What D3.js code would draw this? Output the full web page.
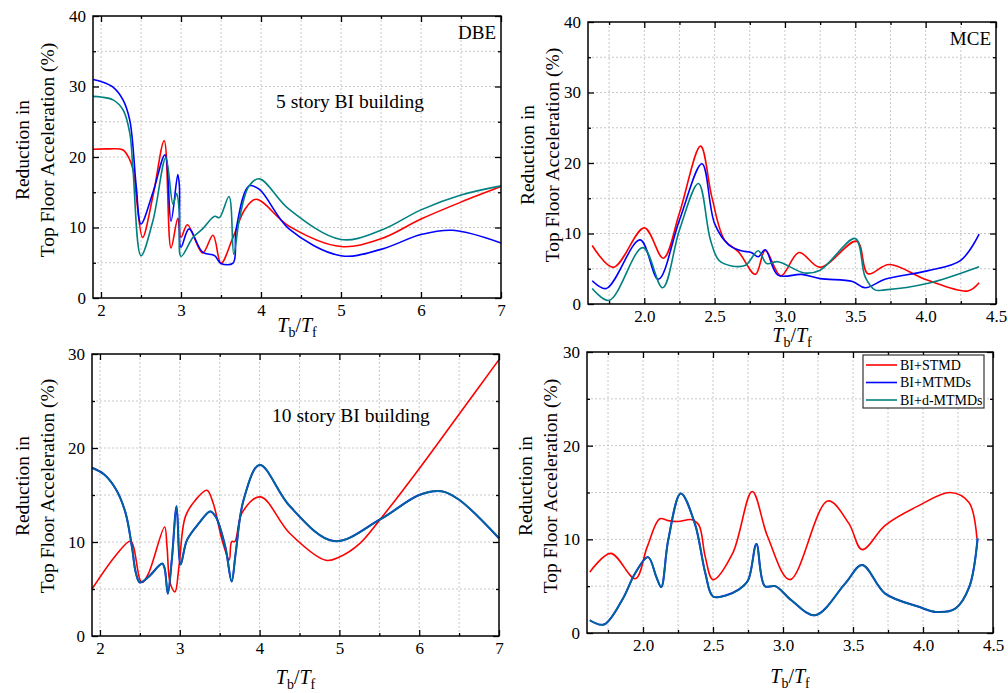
<!DOCTYPE html>
<html>
<head>
<meta charset="utf-8">
<script src="https://cdn.jsdelivr.net/npm/d3@7"></script>
<style>
  body { margin: 0; background: #fff; }
  text { font-family: "Liberation Serif", "Times New Roman", serif; fill: #000; }
</style>
</head>
<body>
<script>
// ---- data ----
// 5 story, DBE
var dbeStmdX = [1.9, 2.1, 2.275, 2.36, 2.41, 2.45, 2.52, 2.65, 2.79, 2.875, 2.96, 3.0, 3.08, 3.27, 3.4, 3.5, 3.65, 3.8, 3.94, 4.35, 5.0, 5.5, 6.0, 6.5, 7.0];
var dbeStmdY = [21.1, 21.15, 21.0, 19.6, 17.7, 13.5, 8.6, 14.5, 22.3, 7.1, 11.3, 8.6, 10.4, 6.4, 8.9, 4.9, 8.6, 12.6, 14.0, 10.2, 7.3, 8.4, 11.2, 13.6, 15.8];
var dbeMtmdX = [1.9, 2.0, 2.15, 2.275, 2.36, 2.44, 2.5, 2.65, 2.8, 2.875, 2.96, 2.98, 3.0, 3.1, 3.27, 3.42, 3.5, 3.65, 3.69, 3.85, 3.98, 4.35, 5.0, 5.5, 6.0, 6.4, 7.0];
var dbeMtmdY = [31.0, 30.7, 29.9, 28.1, 25.2, 15.9, 10.5, 15.0, 20.3, 10.9, 17.5, 15.9, 7.2, 9.8, 6.5, 6.0, 4.9, 4.95, 9.8, 15.9, 15.4, 9.8, 6.0, 6.9, 9.0, 9.6, 7.8];
var dbeDmtmdX = [1.9, 2.0, 2.15, 2.275, 2.36, 2.4, 2.5, 2.65, 2.81, 2.9, 2.945, 2.98, 3.0, 3.15, 3.27, 3.42, 3.48, 3.6, 3.66, 3.73, 3.85, 3.98, 4.35, 5.0, 5.5, 6.0, 6.5, 7.0];
var dbeDmtmdY = [28.6, 28.5, 28.1, 26.7, 23.4, 18.2, 6.0, 11.0, 19.9, 13.3, 14.8, 12.1, 5.9, 8.6, 9.8, 11.6, 11.4, 14.4, 6.2, 11.2, 15.9, 16.9, 12.6, 8.3, 9.6, 12.5, 14.6, 15.9];

// 5 story, MCE
var mceStmdX = [1.63, 1.78, 2.0, 2.135, 2.25, 2.4, 2.48, 2.57, 2.67, 2.79, 2.86, 2.97, 3.1, 3.25, 3.51, 3.59, 3.74, 4.01, 4.3, 4.38];
var mceStmdY = [8.3, 5.2, 10.8, 6.5, 12.9, 22.4, 15.2, 9.1, 7.4, 4.2, 7.6, 4.0, 7.3, 5.2, 8.9, 4.3, 5.6, 3.4, 1.85, 3.0];
var mceMtmdX = [1.63, 1.73, 1.97, 2.1, 2.25, 2.41, 2.5, 2.6, 2.69, 2.76, 2.81, 2.86, 2.95, 3.12, 3.25, 3.48, 3.57, 3.71, 4.01, 4.25, 4.38];
var mceMtmdY = [3.3, 2.2, 9.1, 3.5, 11.9, 19.9, 11.4, 8.4, 7.55, 7.3, 6.7, 7.7, 4.1, 4.2, 3.6, 3.2, 2.3, 3.5, 4.7, 6.2, 9.9];
var mceDmtmdX = [1.63, 1.75, 1.99, 2.13, 2.25, 2.385, 2.47, 2.53, 2.62, 2.72, 2.81, 2.87, 2.95, 3.14, 3.25, 3.5, 3.57, 3.64, 3.71, 4.01, 4.38];
var mceDmtmdY = [2.2, 0.5, 8.0, 2.3, 10.5, 17.1, 9.1, 6.2, 5.4, 5.5, 7.55, 5.75, 6.0, 4.4, 4.8, 9.3, 3.85, 2.0, 2.0, 2.9, 5.3];

// 10 story, DBE (MTMDs and d-MTMDs coincide)
var dbe10StmdX = [1.9, 2.2, 2.38, 2.42, 2.5, 2.53, 2.61, 2.81, 2.84, 2.88, 2.94, 2.99, 3.07, 3.2, 3.34, 3.42, 3.53, 3.62, 3.65, 3.69, 3.78, 4.01, 4.38, 4.83, 5.0, 5.25, 5.51, 6.0, 6.5, 7.0];
var dbe10StmdY = [5.0, 8.6, 10.1, 9.5, 6.0, 5.7, 6.7, 11.6, 9.5, 5.6, 4.7, 7.4, 12.7, 14.5, 15.5, 14.1, 10.2, 8.1, 10.05, 10.05, 13.1, 14.8, 10.9, 8.05, 8.4, 9.8, 12.4, 17.8, 23.6, 29.4];
var dbe10MtmdX = [1.9, 2.05, 2.2, 2.32, 2.4, 2.45, 2.5, 2.61, 2.78, 2.81, 2.85, 2.9, 2.96, 3.01, 3.09, 3.24, 3.38, 3.45, 3.57, 3.65, 3.7, 3.8, 4.0, 4.38, 4.93, 5.51, 6.0, 6.28, 6.5, 7.0];
var dbe10MtmdY = [17.9, 17.2, 15.6, 13.1, 9.5, 6.7, 5.7, 6.3, 7.7, 7.2, 4.5, 8.1, 13.8, 7.6, 10.2, 12.0, 13.25, 12.7, 9.5, 5.8, 8.8, 14.5, 18.2, 13.8, 10.1, 12.4, 15.0, 15.4, 14.5, 10.4];

// 10 story, MCE (MTMDs and d-MTMDs coincide)
var mce10StmdX = [1.62, 1.77, 1.945, 2.03, 2.12, 2.18, 2.25, 2.35, 2.4, 2.445, 2.5, 2.64, 2.78, 2.89, 3.05, 3.32, 3.47, 3.565, 3.73, 3.97, 4.195, 4.33, 4.385];
var mce10StmdY = [6.5, 8.5, 5.8, 9.2, 12.2, 12.0, 11.9, 12.1, 11.5, 8.1, 5.7, 8.5, 15.1, 10.3, 5.7, 14.1, 11.7, 8.9, 11.5, 13.6, 15.0, 13.9, 10.1];
var mce10MtmdX = [1.62, 1.72, 1.85, 1.945, 2.036, 2.095, 2.13, 2.18, 2.27, 2.37, 2.445, 2.5, 2.59, 2.68, 2.75, 2.81, 2.87, 2.945, 3.06, 3.23, 3.445, 3.565, 3.73, 3.97, 4.09, 4.23, 4.33, 4.39];
var mce10MtmdY = [1.36, 0.9, 3.5, 6.4, 8.1, 6.0, 4.9, 9.9, 14.9, 11.7, 6.4, 3.9, 4.0, 4.6, 5.6, 9.5, 5.0, 5.0, 3.5, 1.9, 5.3, 7.25, 4.2, 2.8, 2.25, 2.6, 4.9, 10.1];

var legendNames = ["BI+STMD", "BI+MTMDs", "BI+d-MTMDs"];
var colors = ["#ff0000", "#0000ff", "#008080"];

function zip(xs, ys) { return xs.map(function(x, i) { return [x, ys[i]]; }); }

var W = 1008, H = 693;
var svg = d3.select("body").append("svg").attr("width", W).attr("height", H);

var panels = [
  { l: 93, r: 501, t: 16, b: 298, xd: [1.9, 7], yd: [0, 40],
    xMaj: [2, 3, 4, 5, 6, 7], xMin: [2.5, 3.5, 4.5, 5.5, 6.5], xf: d3.format("d"),
    yMaj: [0, 10, 20, 30, 40], yMin: [5, 15, 25, 35],
    series: [zip(dbeStmdX, dbeStmdY), zip(dbeMtmdX, dbeMtmdY), zip(dbeDmtmdX, dbeDmtmdY)],
    tag: "DBE", note: "5 story BI building", noteX: 276, noteY: 108, ylx: 22, yly: 150, xto: 34 },
  { l: 588, r: 996, t: 22, b: 304, xd: [1.6, 4.5], yd: [0, 40],
    xMaj: [2.0, 2.5, 3.0, 3.5, 4.0, 4.5], xMin: [1.75, 2.25, 2.75, 3.25, 3.75, 4.25], xf: d3.format(".1f"),
    yMaj: [0, 10, 20, 30, 40], yMin: [5, 15, 25, 35],
    series: [zip(mceStmdX, mceStmdY), zip(mceMtmdX, mceMtmdY), zip(mceDmtmdX, mceDmtmdY)],
    tag: "MCE", ylx: 527, yly: 155, xto: 38 },
  { l: 92, r: 499, t: 354, b: 636, xd: [1.9, 7], yd: [0, 30],
    xMaj: [2, 3, 4, 5, 6, 7], xMin: [2.5, 3.5, 4.5, 5.5, 6.5], xf: d3.format("d"),
    yMaj: [0, 10, 20, 30], yMin: [5, 15, 25],
    series: [zip(dbe10StmdX, dbe10StmdY), zip(dbe10MtmdX, dbe10MtmdY), zip(dbe10MtmdX, dbe10MtmdY)],
    note: "10 story BI building", noteX: 272, noteY: 422, ylx: 22, yly: 486, merged: true, xto: 48 },
  { l: 587, r: 993, t: 352, b: 633, xd: [1.6, 4.5], yd: [0, 30],
    xMaj: [2.0, 2.5, 3.0, 3.5, 4.0, 4.5], xMin: [1.75, 2.25, 2.75, 3.25, 3.75, 4.25], xf: d3.format(".1f"),
    yMaj: [0, 10, 20, 30], yMin: [5, 15, 25],
    series: [zip(mce10StmdX, mce10StmdY), zip(mce10MtmdX, mce10MtmdY), zip(mce10MtmdX, mce10MtmdY)],
    legend: true, ylx: 525, yly: 486, merged: true, xto: 50 }
];

panels.forEach(function(p) {
  var x = d3.scaleLinear().domain(p.xd).range([p.l, p.r]);
  var y = d3.scaleLinear().domain(p.yd).range([p.b, p.t]);
  var g = svg.append("g");

  // dotted grid
  var gx = p.xMaj.concat(p.xMin).filter(function(v) { return v > p.xd[0] && v < p.xd[1]; });
  var gy = p.yMaj.concat(p.yMin).filter(function(v) { return v > p.yd[0] && v < p.yd[1]; });
  g.selectAll(".gx").data(gx).enter().append("line")
    .attr("x1", function(d) { return x(d); }).attr("x2", function(d) { return x(d); })
    .attr("y1", p.t).attr("y2", p.b)
    .attr("stroke", "#c8c8c8").attr("stroke-dasharray", "2,2").attr("stroke-width", 1);
  g.selectAll(".gy").data(gy).enter().append("line")
    .attr("y1", function(d) { return y(d); }).attr("y2", function(d) { return y(d); })
    .attr("x1", p.l).attr("x2", p.r)
    .attr("stroke", "#c8c8c8").attr("stroke-dasharray", "2,2").attr("stroke-width", 1);

  // curves
  var line = d3.line().x(function(d) { return x(d[0]); }).y(function(d) { return y(d[1]); })
    .curve(d3.curveCatmullRom.alpha(0.5));
  p.series.forEach(function(s, i) {
    var path = g.append("path").datum(s).attr("d", line)
      .attr("fill", "none").attr("stroke", colors[i]).attr("stroke-width", 1.6);
    if (p.merged && i === 1) path.attr("stroke-width", 2.0);
    if (p.merged && i === 2) path.attr("stroke-opacity", 0.8).attr("stroke-width", 1.8);
  });

  // axes with inward ticks
  function addAxis(axisFn, scale, vals, size, tf, tr, pad) {
    var a = g.append("g").attr("transform", tr)
      .call(axisFn(scale).tickValues(vals).tickSize(size).tickPadding(pad || 3)
        .tickFormat(tf || ""));
    a.select(".domain").remove();
    a.selectAll("line").attr("stroke", "#000").attr("stroke-width", 1.3);
    a.selectAll("text").style("font-size", "17px").style("font-family", "Liberation Serif, serif");
    return a;
  }
  addAxis(d3.axisBottom, x, p.xMaj, -6, p.xf, "translate(0," + p.b + ")", 6);
  addAxis(d3.axisBottom, x, p.xMin, -3, null, "translate(0," + p.b + ")");
  addAxis(d3.axisTop, x, p.xMaj, -6, null, "translate(0," + p.t + ")");
  addAxis(d3.axisTop, x, p.xMin, -3, null, "translate(0," + p.t + ")");
  addAxis(d3.axisLeft, y, p.yMaj, -6, d3.format("d"), "translate(" + p.l + ",0)", 7);
  addAxis(d3.axisLeft, y, p.yMin, -3, null, "translate(" + p.l + ",0)");
  addAxis(d3.axisRight, y, p.yMaj, -6, null, "translate(" + p.r + ",0)");
  addAxis(d3.axisRight, y, p.yMin, -3, null, "translate(" + p.r + ",0)");

  g.append("rect").attr("x", p.l).attr("y", p.t).attr("width", p.r - p.l).attr("height", p.b - p.t)
    .attr("fill", "none").attr("stroke", "#000").attr("stroke-width", 1.5);

  // axis titles
  var yt = g.append("text").attr("transform", "translate(" + p.ylx + "," + p.yly + ") rotate(-90)")
    .attr("text-anchor", "middle").style("font-size", "19.5px");
  yt.append("tspan").attr("x", 0).attr("dy", "0.35em").text("Reduction in");
  yt.append("tspan").attr("x", 0).attr("dy", "1.3em").text("Top Floor Acceleration (%)");

  var xt = g.append("text").attr("x", (p.l + p.r) / 2).attr("y", p.b + p.xto)
    .attr("text-anchor", "middle").style("font-size", "20px");
  xt.append("tspan").style("font-style", "italic").text("T");
  xt.append("tspan").attr("dy", 5).style("font-size", "14px").text("b");
  xt.append("tspan").attr("dy", -5).text("/");
  xt.append("tspan").style("font-style", "italic").text("T");
  xt.append("tspan").attr("dy", 5).style("font-size", "14px").text("f");

  if (p.tag) {
    g.append("text").attr("x", p.r - 5).attr("y", p.t + 23).attr("text-anchor", "end")
      .style("font-size", "19px").text(p.tag);
  }
  if (p.note) {
    g.append("text").attr("x", p.noteX).attr("y", p.noteY).style("font-size", "19.5px").text(p.note);
  }
  if (p.legend) {
    var lg = g.append("g");
    lg.append("rect").attr("x", 863).attr("y", 355).attr("width", 121).attr("height", 53)
      .attr("fill", "#fff").attr("stroke", "#333").attr("stroke-width", 1.2);
    legendNames.forEach(function(n, i) {
      var yy = 365 + i * 17.5;
      lg.append("line").attr("x1", 866).attr("x2", 897).attr("y1", yy).attr("y2", yy)
        .attr("stroke", colors[i]).attr("stroke-width", 1.6);
      lg.append("text").attr("x", 900).attr("y", yy).attr("dy", "0.35em")
        .style("font-size", "14px").text(n);
    });
  }
});
</script>
</body>
</html>
